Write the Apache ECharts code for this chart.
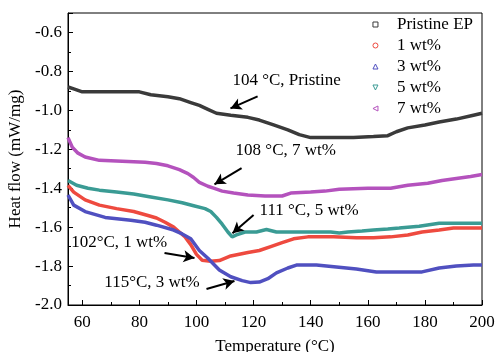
<!DOCTYPE html>
<html>
<head>
<meta charset="utf-8">
<script src="https://cdn.jsdelivr.net/npm/echarts@6/dist/echarts.min.js"></script>
<style>
  html, body { margin: 0; padding: 0; background: #fff; }
  #chart { width: 496px; height: 352px; }
</style>
</head>
<body>
<div id="chart"></div>
<script>
// DSC curves: [temperature °C, heat flow mW/mg]
const pristine = [[55,-0.88],[57,-0.89],[60,-0.905],[70,-0.905],[80,-0.905],[84,-0.92],[90,-0.93],[94,-0.94],[98,-0.96],[101,-0.975],[104,-0.995],[107,-1.015],[112,-1.025],[118,-1.036],[122,-1.05],[127,-1.075],[132,-1.10],[136,-1.125],[140,-1.14],[148,-1.14],[155,-1.14],[162,-1.135],[167,-1.13],[170,-1.11],[174,-1.09],[180,-1.075],[185,-1.06],[191,-1.045],[197,-1.025],[200,-1.015]];
const wt1 = [[55,-1.385],[57,-1.42],[61,-1.46],[66,-1.487],[72,-1.505],[78,-1.52],[83,-1.54],[86,-1.553],[89,-1.575],[92,-1.60],[94,-1.625],[96,-1.65],[98,-1.69],[100,-1.74],[102,-1.77],[105,-1.775],[108,-1.772],[112,-1.748],[118,-1.73],[122,-1.72],[126,-1.70],[130,-1.68],[134,-1.66],[139,-1.65],[148,-1.65],[156,-1.655],[162,-1.655],[168,-1.65],[174,-1.64],[179,-1.625],[185,-1.615],[190,-1.605],[200,-1.605]];
const wt3 = [[55,-1.435],[57,-1.487],[61,-1.52],[68,-1.55],[77,-1.565],[82,-1.575],[86,-1.59],[92,-1.615],[95,-1.635],[98,-1.66],[101,-1.72],[104,-1.76],[108,-1.82],[112,-1.855],[116,-1.875],[119,-1.885],[122,-1.882],[125,-1.865],[128,-1.835],[132,-1.81],[135,-1.795],[142,-1.795],[149,-1.805],[156,-1.815],[163,-1.83],[171,-1.83],[179,-1.83],[185,-1.81],[191,-1.8],[197,-1.795],[200,-1.795]];
const wt5 = [[55,-1.36],[58,-1.385],[62,-1.40],[66,-1.41],[72,-1.42],[78,-1.43],[84,-1.445],[90,-1.46],[95,-1.475],[99,-1.49],[103,-1.505],[105,-1.52],[107,-1.55],[109,-1.585],[111,-1.625],[112.5,-1.65],[114,-1.64],[117,-1.625],[121,-1.625],[124.5,-1.612],[128,-1.625],[140,-1.625],[147,-1.625],[150,-1.63],[153,-1.625],[158,-1.62],[162,-1.615],[167,-1.61],[171,-1.605],[178,-1.595],[185,-1.58],[200,-1.58]];
const wt7 = [[55,-1.14],[56.5,-1.19],[58.5,-1.22],[61,-1.24],[66,-1.257],[74,-1.262],[82,-1.267],[86,-1.273],[90,-1.285],[94,-1.305],[97,-1.325],[99,-1.345],[101,-1.37],[104,-1.39],[106,-1.40],[109,-1.415],[113,-1.425],[118,-1.435],[124,-1.44],[130,-1.44],[133,-1.425],[140,-1.42],[145,-1.415],[150,-1.405],[160,-1.40],[168,-1.40],[174,-1.385],[181,-1.375],[186,-1.36],[191,-1.35],[196,-1.34],[200,-1.33]];

const seriesNames = ['Pristine EP', '1 wt%', '3 wt%', '5 wt%', '7 wt%'];
const seriesData = [pristine, wt1, wt3, wt5, wt7];
const colors = ['#3a3a3a', '#ee4a3f', '#5050c0', '#3a9b94', '#b452bd'];
const legendIcons = [
  'rect',
  'circle',
  'triangle',
  'path://M0,0 L10,0 L5,10 Z',
  'path://M10,0 L10,10 L0,5 Z'
];

const xMajorTicks = [60, 80, 100, 120, 140, 160, 180, 200];
const xMinorTicks = [70, 90, 110, 130, 150, 170, 190];

// annotations: [text, text anchor (x, y), arrow from (x, y), arrow to (x, y)]
const notes = [
  ['104 °C, Pristine', [112.6, -0.845], [121.4, -0.928], [111.9, -0.99]],
  ['108 °C, 7 wt%', [113.7, -1.205], [115.8, -1.297], [106.3, -1.38]],
  ['111 °C, 5 wt%', [122.1, -1.513], [120.0, -1.538], [112.6, -1.631]],
  ['102°C, 1 wt%', [56.1, -1.677], [88.8, -1.733], [99.3, -1.759]],
  ['115°C, 3 wt%', [67.7, -1.887], [103.5, -1.918], [113.3, -1.877]]
];

const FONT = 'Liberation Serif';
const chart = echarts.init(document.getElementById('chart'));

const series = seriesData.map((d, i) => ({
  name: seriesNames[i],
  type: 'line',
  data: d,
  showSymbol: false,
  symbol: legendIcons[i],
  lineStyle: { color: colors[i], width: 3.5 },
  itemStyle: { color: colors[i] },
  animation: false,
  z: 2
}));

series.push({
  name: 'arrows',
  type: 'line',
  data: [],
  animation: false,
  markLine: {
    silent: true,
    animation: false,
    symbol: ['none', 'arrow'],
    symbolSize: [9, 11],
    label: { show: false },
    lineStyle: { color: '#000', width: 2, type: 'solid' },
    data: notes.map(n => [{ coord: n[2] }, { coord: n[3] }])
  }
});

chart.setOption({
  backgroundColor: '#fff',
  animation: false,
  grid: { left: 68, right: 14, top: 13, bottom: 47, outerBoundsMode: 'none' },
  legend: {
    orient: 'vertical',
    right: 18,
    top: 11,
    itemGap: 4,
    itemWidth: 5,
    itemHeight: 5,
    textStyle: { fontFamily: FONT, fontSize: 17, color: '#000', padding: [0, 0, 0, 14] },
    data: seriesNames.map((n, i) => ({
      name: n,
      icon: legendIcons[i],
      itemStyle: { color: '#fff', borderColor: colors[i], borderWidth: 1 }
    }))
  },
  xAxis: [{
    type: 'value',
    min: 55,
    max: 200,
    name: 'Temperature (°C)',
    nameLocation: 'middle',
    nameGap: 33,
    nameTextStyle: { fontFamily: FONT, fontSize: 17, color: '#000' },
    axisLine: { onZero: false, lineStyle: { color: '#000', width: 1 } },
    axisTick: { inside: true, length: 5, customValues: xMajorTicks, lineStyle: { color: '#000' } },
    axisLabel: {
      fontFamily: FONT, fontSize: 17, color: '#000', margin: 9,
      customValues: xMajorTicks
    },
    splitLine: { show: false }
  }, {
    // carries only the minor ticks of the bottom axis
    type: 'value',
    min: 55,
    max: 200,
    position: 'bottom',
    axisLine: { show: false },
    axisTick: { inside: true, length: 3, customValues: xMinorTicks, lineStyle: { color: '#000' } },
    axisLabel: { show: false },
    splitLine: { show: false }
  }],
  yAxis: {
    type: 'value',
    min: -2.0,
    max: -0.5,
    interval: 0.2,
    name: 'Heat flow (mW/mg)',
    nameLocation: 'middle',
    nameGap: 41,
    nameTextStyle: { fontFamily: FONT, fontSize: 17, color: '#000' },
    axisLine: { onZero: false, lineStyle: { color: '#000', width: 1 } },
    axisTick: { inside: true, length: 5, lineStyle: { color: '#000' } },
    minorTick: { show: true, splitNumber: 2, length: 3, lineStyle: { color: '#000' } },
    axisLabel: {
      fontFamily: FONT, fontSize: 17, color: '#000', margin: 6,
      showMaxLabel: false,
      formatter: v => v.toFixed(1)
    },
    splitLine: { show: false }
  },
  series: series
});

// frame on top/right, annotation texts placed in data coordinates
function drawExtras() {
  const rect = chart.getModel().getComponent('grid').coordinateSystem.getRect();
  const texts = notes.map(n => {
    const p = chart.convertToPixel({ gridIndex: 0 }, n[1]);
    return {
      type: 'text',
      x: p[0],
      y: p[1],
      silent: true,
      style: {
        text: n[0],
        fontFamily: FONT,
        fontSize: 17,
        fill: '#000',
        align: 'left',
        verticalAlign: 'middle'
      },
      z: 10
    };
  });
  chart.setOption({
    graphic: [{
      type: 'rect',
      shape: { x: rect.x, y: rect.y, width: rect.width, height: rect.height },
      style: { fill: 'none', stroke: '#000', lineWidth: 1 },
      silent: true,
      z: 0
    }].concat(texts)
  });
}
drawExtras();
</script>
</body>
</html>
